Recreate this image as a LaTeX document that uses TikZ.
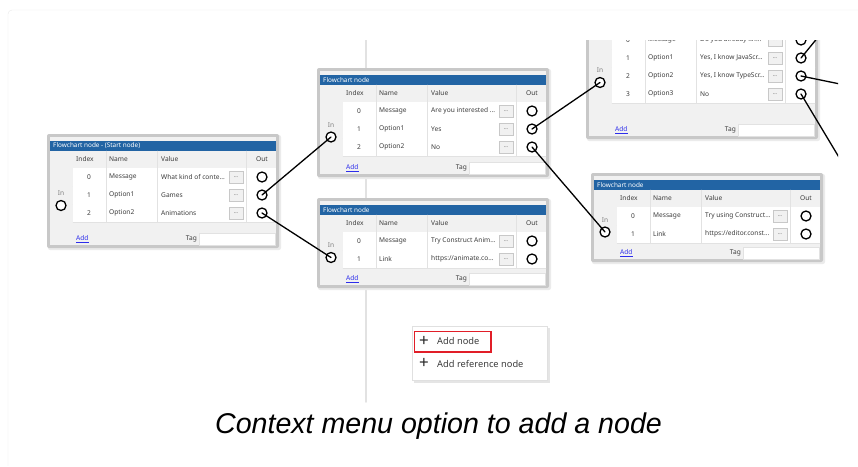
\documentclass[tikz,border=0pt]{standalone}
\usepackage{fontspec}
\setmainfont{Noto Sans}
\newfontfamily\capfont{Liberation Sans}
\usepackage{xcolor}

\definecolor{hdrblue}{RGB}{34,100,164}
\definecolor{panelgray}{RGB}{241,241,241}
\definecolor{framegray}{RGB}{200,200,200}
\definecolor{gridline}{RGB}{226,226,226}
\definecolor{textgray}{RGB}{60,60,60}
\definecolor{linkblue}{RGB}{45,45,235}
\definecolor{menured}{RGB}{225,30,40}
\definecolor{pagegray}{RGB}{232,232,232}

% one flowchart node panel: name, left, top, rows, gap, title
\newcommand{\fcpanel}[6]{%
  \pgfmathsetmacro{\fcend}{#3+34+18*#4}%
  \pgfmathsetmacro{\fcadd}{\fcend+#5}%
  \pgfmathsetmacro{\fcbot}{\fcadd+9}%
  \pgfmathsetmacro{\fcmid}{(#3+17+\fcbot)/2}%
  \fill[black!8,rounded corners=2pt] (#2+1,#3+1) rectangle (#2+234,\fcbot+2);
  \fill[framegray,rounded corners=2pt] (#2,#3) rectangle (#2+232,\fcbot);
  \fill[panelgray] (#2+3,#3+3) rectangle (#2+229,\fcbot-3);
  \fill[hdrblue] (#2+3,#3+7) rectangle (#2+229,#3+17);
  \node[hdr,anchor=west] (#1-title) at (#2+6,#3+12) {#6};
  \foreach \c in {59,110,199} \draw[gridline] (#2+\c,#3+17) -- (#2+\c,#3+34);
  \node[ui,anchor=west] (#1-hi) at (#2+29,#3+25.5) {Index};
  \node[ui,anchor=west] (#1-hn) at (#2+62,#3+25.5) {Name};
  \node[ui,anchor=west] (#1-hv) at (#2+114,#3+25.5) {Value};
  \node[ui] (#1-ho) at (#2+215,#3+25.5) {Out};
  \node[ui,text=gray] (#1-inl) at (#2+14,\fcmid-6) {In};
  \node[outc] (#1-in) at (#2+14,\fcmid+6) {};
  \node[ui,text=linkblue,anchor=west] (#1-add) at (#2+29,\fcadd) {\underline{Add}};
  \node[ui,anchor=east] (#1-tag) at (#2+150,\fcadd) {Tag};
  \filldraw[fill=white,draw=gridline] (#2+152,\fcadd-6) rectangle (#2+228,\fcadd+6);
}

% one row of a panel: name, left, top, index, name, value
\newcommand{\fcrow}[6]{%
  \pgfmathsetmacro{\fcy}{#3+34+18*#4}%
  \fill[white] (#2+26,\fcy) rectangle (#2+229,\fcy+18);
  \draw[gridline] (#2+26,\fcy+18) -- (#2+229,\fcy+18);
  \foreach \c in {59,110,199} \draw[gridline] (#2+\c,\fcy) -- (#2+\c,\fcy+18);
  \node[ui] (#1-i#4) at (#2+42,\fcy+9) {#4};
  \node[ui,anchor=west] (#1-n#4) at (#2+62,\fcy+9) {#5};
  \node[ui,anchor=west] (#1-v#4) at (#2+114,\fcy+9) {#6};
  \node[dotbtn] (#1-b#4) at (#2+189,\fcy+9) {...};
  \node[outc] (#1-o#4) at (#2+215,\fcy+9) {};
}

\begin{document}
\begin{tikzpicture}[x=1pt,y=-1pt,line cap=round,
  ui/.style={font=\fontsize{6.6}{8}\selectfont,text=textgray,inner sep=0pt},
  hdr/.style={font=\fontsize{6.4}{8}\selectfont,text=white,inner sep=0pt},
  outc/.style={circle,draw=black,fill=white,line width=1.3pt,minimum size=10pt,inner sep=0pt},
  dotbtn/.style={draw=framegray,fill=panelgray,minimum width=14pt,minimum height=12pt,inner sep=0pt,
    font=\fontsize{5}{6}\selectfont,text=textgray},
  wire/.style={line width=1.3pt},
  menu/.style={font=\fontsize{9.3}{11}\selectfont,text=textgray,inner sep=0pt},
  plus/.style={font=\bfseries\fontsize{17}{17}\selectfont,text=black!85,inner sep=0pt}]
\useasboundingbox (0,0) rectangle (858,466);
\draw[pagegray,rounded corners=4pt] (8,466) -- (8,10) -- (858,10);

\begin{scope}
\clip (10,40) rectangle (838,402);
\draw[gridline,line width=1.5pt] (366,40) -- (366,402);

% start node
\fcpanel{p1}{47}{134}{3}{17}{Flowchart node - (Start node)}
\fcrow{p1}{47}{134}{0}{Message}{What kind of conte...}
\fcrow{p1}{47}{134}{1}{Option1}{Games}
\fcrow{p1}{47}{134}{2}{Option2}{Animations}

\fcpanel{p2}{317}{68}{3}{12}{Flowchart node}
\fcrow{p2}{317}{68}{0}{Message}{Are you interested ...}
\fcrow{p2}{317}{68}{1}{Option1}{Yes}
\fcrow{p2}{317}{68}{2}{Option2}{No}

\fcpanel{p3}{317}{198}{2}{11}{Flowchart node}
\fcrow{p3}{317}{198}{0}{Message}{Try Construct Anim...}
\fcrow{p3}{317}{198}{1}{Link}{https://animate.co...}

\fcpanel{p4}{586}{-3}{4}{27}{}
\fcrow{p4}{586}{-3}{0}{Message}{Do you already kn...}
\fcrow{p4}{586}{-3}{1}{Option1}{Yes, I know JavaScr...}
\fcrow{p4}{586}{-3}{2}{Option2}{Yes, I know TypeScr...}
\fcrow{p4}{586}{-3}{3}{Option3}{No}

\fcpanel{p5}{591}{173}{2}{10}{Flowchart node}
\fcrow{p5}{591}{173}{0}{Message}{Try using Construct...}
\fcrow{p5}{591}{173}{1}{Link}{https://editor.const...}

% links
\coordinate (p4-x1) at (819,36);
\coordinate (p4-x2) at (840,84);
\coordinate (p4-x3) at (840,159);
\draw[wire] (p1-o1.center) -- (p2-in.center);
\draw[wire] (p1-o2.center) -- (p3-in.center);
\draw[wire] (p2-o1.center) -- (p4-in.center);
\draw[wire] (p2-o2.center) -- (p5-in.center);
\draw[wire] (p4-o1.center) -- (p4-x1);
\draw[wire] (p4-o2.center) -- (p4-x2);
\draw[wire] (p4-o3.center) -- (p4-x3);

% context menu
\fill[black!10] (414,328) rectangle (550,383);
\filldraw[fill=white,draw=black!12] (412,326) rectangle (547,380);
\draw[menured,line width=1.6pt] (414.5,331.5) rectangle (491,352);
\node[plus] (plus1) at (424,341) {+};
\node[menu,anchor=west] (addnode) at (437,341.5) {Add node};
\node[plus] (plus2) at (424,363.5) {+};
\node[menu,anchor=west] (addref) at (437,364) {Add reference node};
\end{scope}

\node[font=\capfont\itshape\fontsize{28.6}{32}\selectfont,anchor=base,inner sep=0pt] (caption) at (438.5,433) {Context menu option to add a node};
\end{tikzpicture}
\end{document}
